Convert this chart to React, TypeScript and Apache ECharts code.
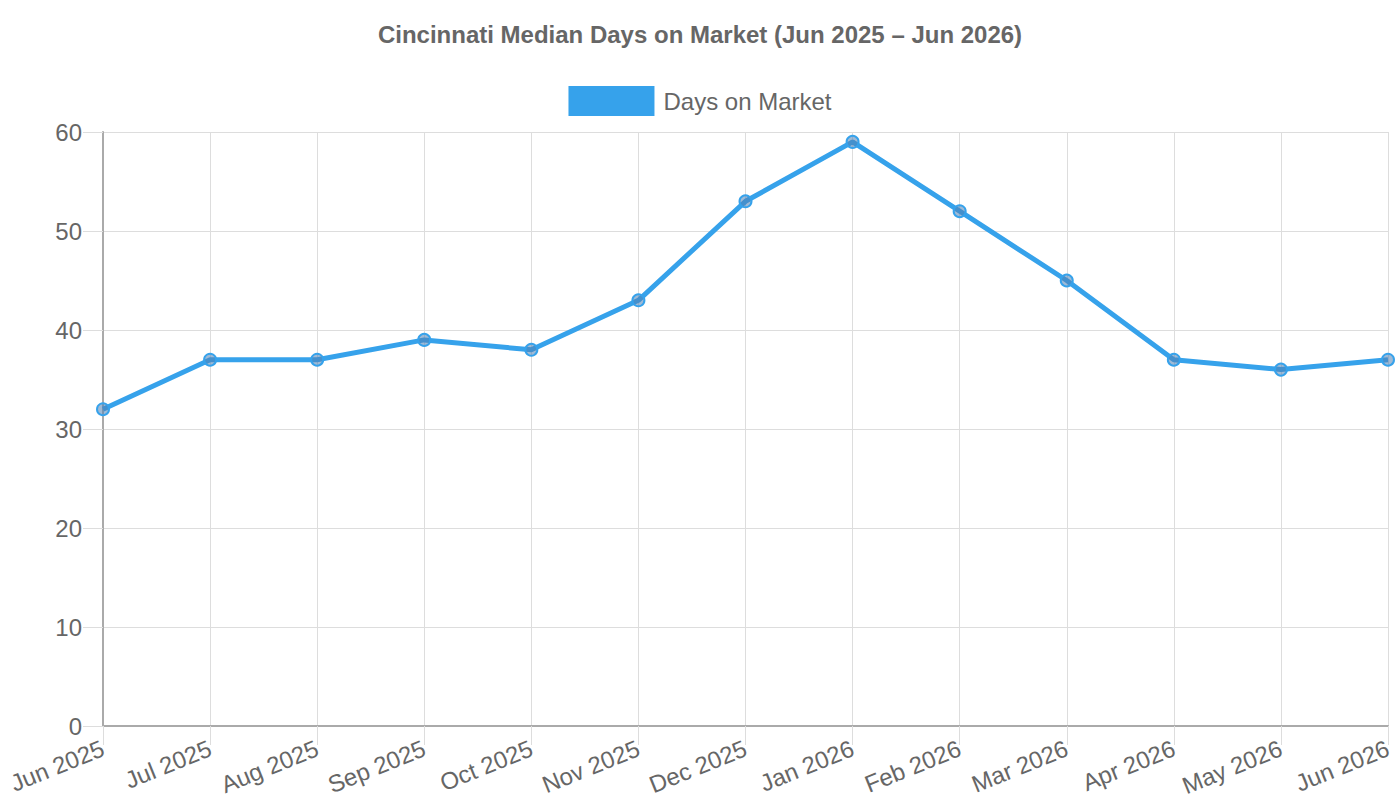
import React from 'react';
import * as echarts from 'echarts';

const months = [
  'Jun 2025', 'Jul 2025', 'Aug 2025', 'Sep 2025', 'Oct 2025', 'Nov 2025', 'Dec 2025',
  'Jan 2026', 'Feb 2026', 'Mar 2026', 'Apr 2026', 'May 2026', 'Jun 2026',
];
const daysOnMarket = [32, 37, 37, 39, 38, 43, 53, 59, 52, 45, 37, 36, 37];
const seriesName = 'Days on Market';
const chartTitle = 'Cincinnati Median Days on Market (Jun 2025 – Jun 2026)';

const FONT = '"Liberation Sans", Arial, Helvetica, sans-serif';
const BLUE = '#36a2eb';

const App: React.FC = () => {
  const chartRef = React.useRef<HTMLDivElement>(null);

  React.useEffect(() => {
    if (!chartRef.current) return;
    const chart = echarts.init(chartRef.current, undefined, { renderer: 'svg' });

    chart.setOption({
      animation: false,
      textStyle: { fontFamily: FONT },
      title: {
        text: chartTitle,
        left: 'center',
        top: 17,
        textStyle: { fontSize: 24, fontWeight: 'bold', color: '#666', fontFamily: FONT },
      },
      legend: {
        top: 81,
        left: 'center',
        itemWidth: 86,
        itemHeight: 30,
        data: [{ name: seriesName, icon: 'rect', itemStyle: { color: BLUE, borderWidth: 0 } }],
        textStyle: { fontSize: 24, color: '#666', fontFamily: FONT, padding: [0, 0, 0, 4] },
      },
      grid: {
        left: 103,
        right: 12,
        top: 132,
        bottom: 74,
        containLabel: false,
        outerBoundsMode: 'none',
      },
      xAxis: {
        type: 'category',
        data: months,
        boundaryGap: false,
        axisLine: { show: true, lineStyle: { color: '#aaa', width: 2 } },
        axisTick: { show: true, length: 19, alignWithLabel: true, lineStyle: { color: '#ddd' } },
        splitLine: { show: true, lineStyle: { color: '#ddd', width: 1 } },
        axisLabel: {
          rotate: 22,
          fontSize: 24,
          color: '#666',
          margin: 21,
          interval: 0,
          fontFamily: FONT,
        },
      },
      yAxis: {
        type: 'value',
        min: 0,
        max: 60,
        interval: 10,
        axisLine: { show: true, lineStyle: { color: '#aaa', width: 2 } },
        axisTick: { show: true, length: 20, lineStyle: { color: '#ddd' } },
        splitLine: { show: true, lineStyle: { color: '#ddd', width: 1 } },
        axisLabel: { fontSize: 24, color: '#666', margin: 21, fontFamily: FONT },
      },
      series: [
        {
          name: seriesName,
          type: 'line',
          data: daysOnMarket,
          symbol: 'circle',
          symbolSize: 12,
          lineStyle: { color: BLUE, width: 5 },
          itemStyle: { color: 'rgba(80,130,180,0.55)', borderColor: BLUE, borderWidth: 2 },
          emphasis: { disabled: true },
        },
      ],
    });

    return () => {
      chart.dispose();
    };
  }, []);

  return (
    <div
      ref={chartRef}
      style={{ position: 'absolute', left: 0, top: 0, width: '1400px', height: '800px', background: '#fff' }}
    />
  );
};

export default App;
